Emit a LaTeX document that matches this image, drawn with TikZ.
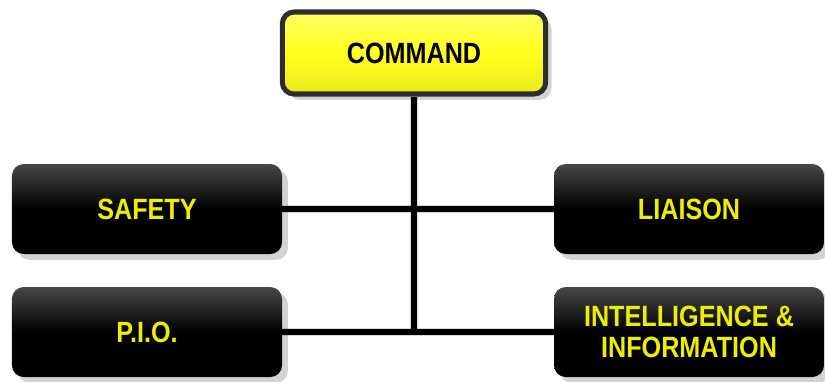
\documentclass[tikz,border=0pt]{standalone}
\usepackage{fontspec}
\newfontfamily\postfont[FakeStretch=0.86]{Liberation Sans}
\usetikzlibrary{shadows}

\definecolor{postyellow}{RGB}{238,238,0}
\definecolor{chiefyellow}{RGB}{255,255,30}
\definecolor{rimgray}{RGB}{45,45,45}

\tikzset{
	box/.style={rectangle, rounded corners=10pt, align=center, inner sep=0pt,
		font=\postfont\bfseries\fontsize{25}{27}\selectfont,
		drop shadow={shadow xshift=5pt, shadow yshift=-5pt, opacity=.35}},
	post/.style={box, minimum width=8.1cm, minimum height=2.7cm,
		top color=black!72, bottom color=black, middle color=black, text=postyellow},
	chief/.style={box, top color=chiefyellow!70!white, bottom color=chiefyellow!92!black,
		middle color=chiefyellow, draw=rimgray, line width=4.3pt, text=black,
		minimum width=7.9cm, minimum height=2.46cm},
	link/.style={line width=4.3pt, black},
	linkshadow/.style={line width=7pt, black, opacity=.15}
}

\begin{document}
\begin{tikzpicture}[x=0.03cm, y=-0.03cm]
	
	\useasboundingbox (0, 0) rectangle (825, 381);
	
	\node[chief] (cmd)    at (414, 53)  {COMMAND};
	\node[post]  (safety) at (147, 209) {SAFETY};
	\node[post]  (liaison) at (689, 209) {LIAISON};
	\node[post]  (pio)    at (147, 332) {P.I.O.};
	\node[post]  (intel)  at (689, 332) {INTELLIGENCE \&\\INFORMATION};
	
	\coordinate (base) at (414, 332);
	
	% soft shadows of the lines
	\path[linkshadow, xshift=6pt] (cmd) edge (base);
	\path[linkshadow, yshift=-6pt] (safety) edge (liaison);
	\path[linkshadow, yshift=-6pt] (pio) edge (intel);
	
	\path[link] (cmd) edge (base);
	\path[link] (safety) edge (liaison);
	\path[link] (pio) edge (intel);
	

\end{tikzpicture}
\end{document}
